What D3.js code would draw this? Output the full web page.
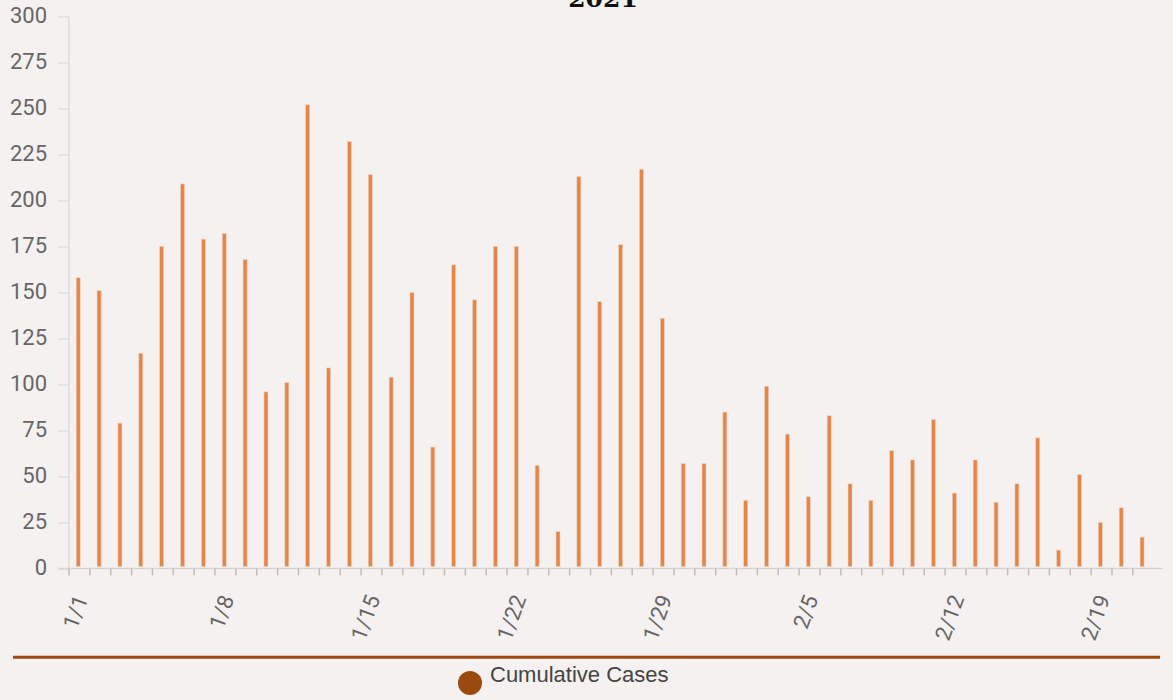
<!DOCTYPE html>
<html>
<head>
<meta charset="utf-8">
<script src="https://cdn.jsdelivr.net/npm/d3@7"></script>
<style>
  html, body { margin: 0; padding: 0; background: #f4f1f0; }
  svg { display: block; }
</style>
</head>
<body>
<svg id="chart" width="1173" height="700"></svg>
<script>
const dates = ["1/1","1/2","1/3","1/4","1/5","1/6","1/7","1/8","1/9","1/10","1/11","1/12","1/13","1/14","1/15","1/16","1/17","1/18","1/19","1/20","1/21","1/22","1/23","1/24","1/25","1/26","1/27","1/28","1/29","1/30","1/31","2/1","2/2","2/3","2/4","2/5","2/6","2/7","2/8","2/9","2/10","2/11","2/12","2/13","2/14","2/15","2/16","2/17","2/18","2/19","2/20","2/21"];
const dailyCases = [158,151,79,117,175,209,179,182,168,96,101,252,109,232,214,104,150,66,165,146,175,175,56,20,213,145,176,217,136,57,57,85,37,99,73,39,83,46,37,64,59,81,41,59,36,46,71,10,51,25,33,17];
const yTicks = [0,25,50,75,100,125,150,175,200,225,250,275,300];
const xLabels = ["1/1","1/8","1/15","1/22","1/29","2/5","2/12","2/19"];
const title = "2021";
const legendLabel = "Cumulative Cases";

const svg = d3.select("#chart");

const x = d3.scaleBand().domain(dates).range([69, 1153.7]).padding(0);
const y = d3.scaleLinear().domain([0, 300]).range([568.5, 16.5]);

// Title
svg.append("text")
  .attr("x", 603).attr("y", 7)
  .attr("text-anchor", "middle")
  .attr("font-family", "DejaVu Serif")
  .attr("font-weight", "bold")
  .attr("font-size", 25)
  .attr("fill", "#111")
  .text(title);

// Y axis
const yAxis = svg.append("g").attr("transform", "translate(69,0)")
  .call(d3.axisLeft(y).tickValues(yTicks).tickSize(11).tickPadding(11).tickFormat(d3.format("d")));
yAxis.select(".domain").attr("stroke", "#dcdcdc").attr("stroke-width", 1.5)
  .attr("d", `M0,${y(300)}V${y(0)}`);
yAxis.selectAll(".tick line").attr("stroke", "#dcdcdc").attr("stroke-width", 1.5);
yAxis.selectAll(".tick text")
  .attr("font-family", "Roboto").attr("font-size", 22).attr("fill", "#666")
  .attr("dy", "0.28em");

// X axis line
svg.append("line")
  .attr("x1", 58).attr("x2", 1163)
  .attr("y1", y(0)).attr("y2", y(0))
  .attr("stroke", "#d8d6d5").attr("stroke-width", 1.5);

// X ticks at band boundaries
svg.append("g").selectAll("line")
  .data(dates)
  .join("line")
  .attr("x1", d => x(d)).attr("x2", d => x(d))
  .attr("y1", y(0)).attr("y2", y(0) + 7)
  .attr("stroke", "#c0bebd").attr("stroke-width", 1.5);

// X labels
svg.append("g").selectAll("text")
  .data(xLabels)
  .join("text")
  .attr("transform", d => `translate(${x(d) + x.bandwidth() / 2 + 9},${y(0) + 30}) rotate(-70)`)
  .attr("text-anchor", "end")
  .attr("font-family", "Roboto").attr("font-size", 22).attr("fill", "#666")
  .text(d => d);

// Bars
svg.append("g").selectAll("rect")
  .data(dates.map((d, i) => ({ date: d, value: dailyCases[i] })))
  .join("rect")
  .attr("x", d => x(d.date) + x.bandwidth() / 2 - 3.2)
  .attr("width", 4)
  .attr("y", d => y(d.value))
  .attr("height", d => Math.max(0, y(0) - 2 - y(d.value)))
  .attr("fill", "#e4864a")
  .attr("stroke", "#f1cfb8")
  .attr("stroke-width", 0.6);

// Legend separator line
svg.append("line")
  .attr("x1", 13).attr("x2", 1160)
  .attr("y1", 657.3).attr("y2", 657.3)
  .attr("stroke", "#9c4a10").attr("stroke-width", 3);

// Legend
svg.append("circle")
  .attr("cx", 470).attr("cy", 683).attr("r", 12)
  .attr("fill", "#9b4a0f");
svg.append("text")
  .attr("x", 490).attr("y", 682)
  .attr("font-family", "Liberation Sans, Arial, sans-serif")
  .attr("font-size", 22).attr("fill", "#444")
  .text(legendLabel);
</script>
</body>
</html>
